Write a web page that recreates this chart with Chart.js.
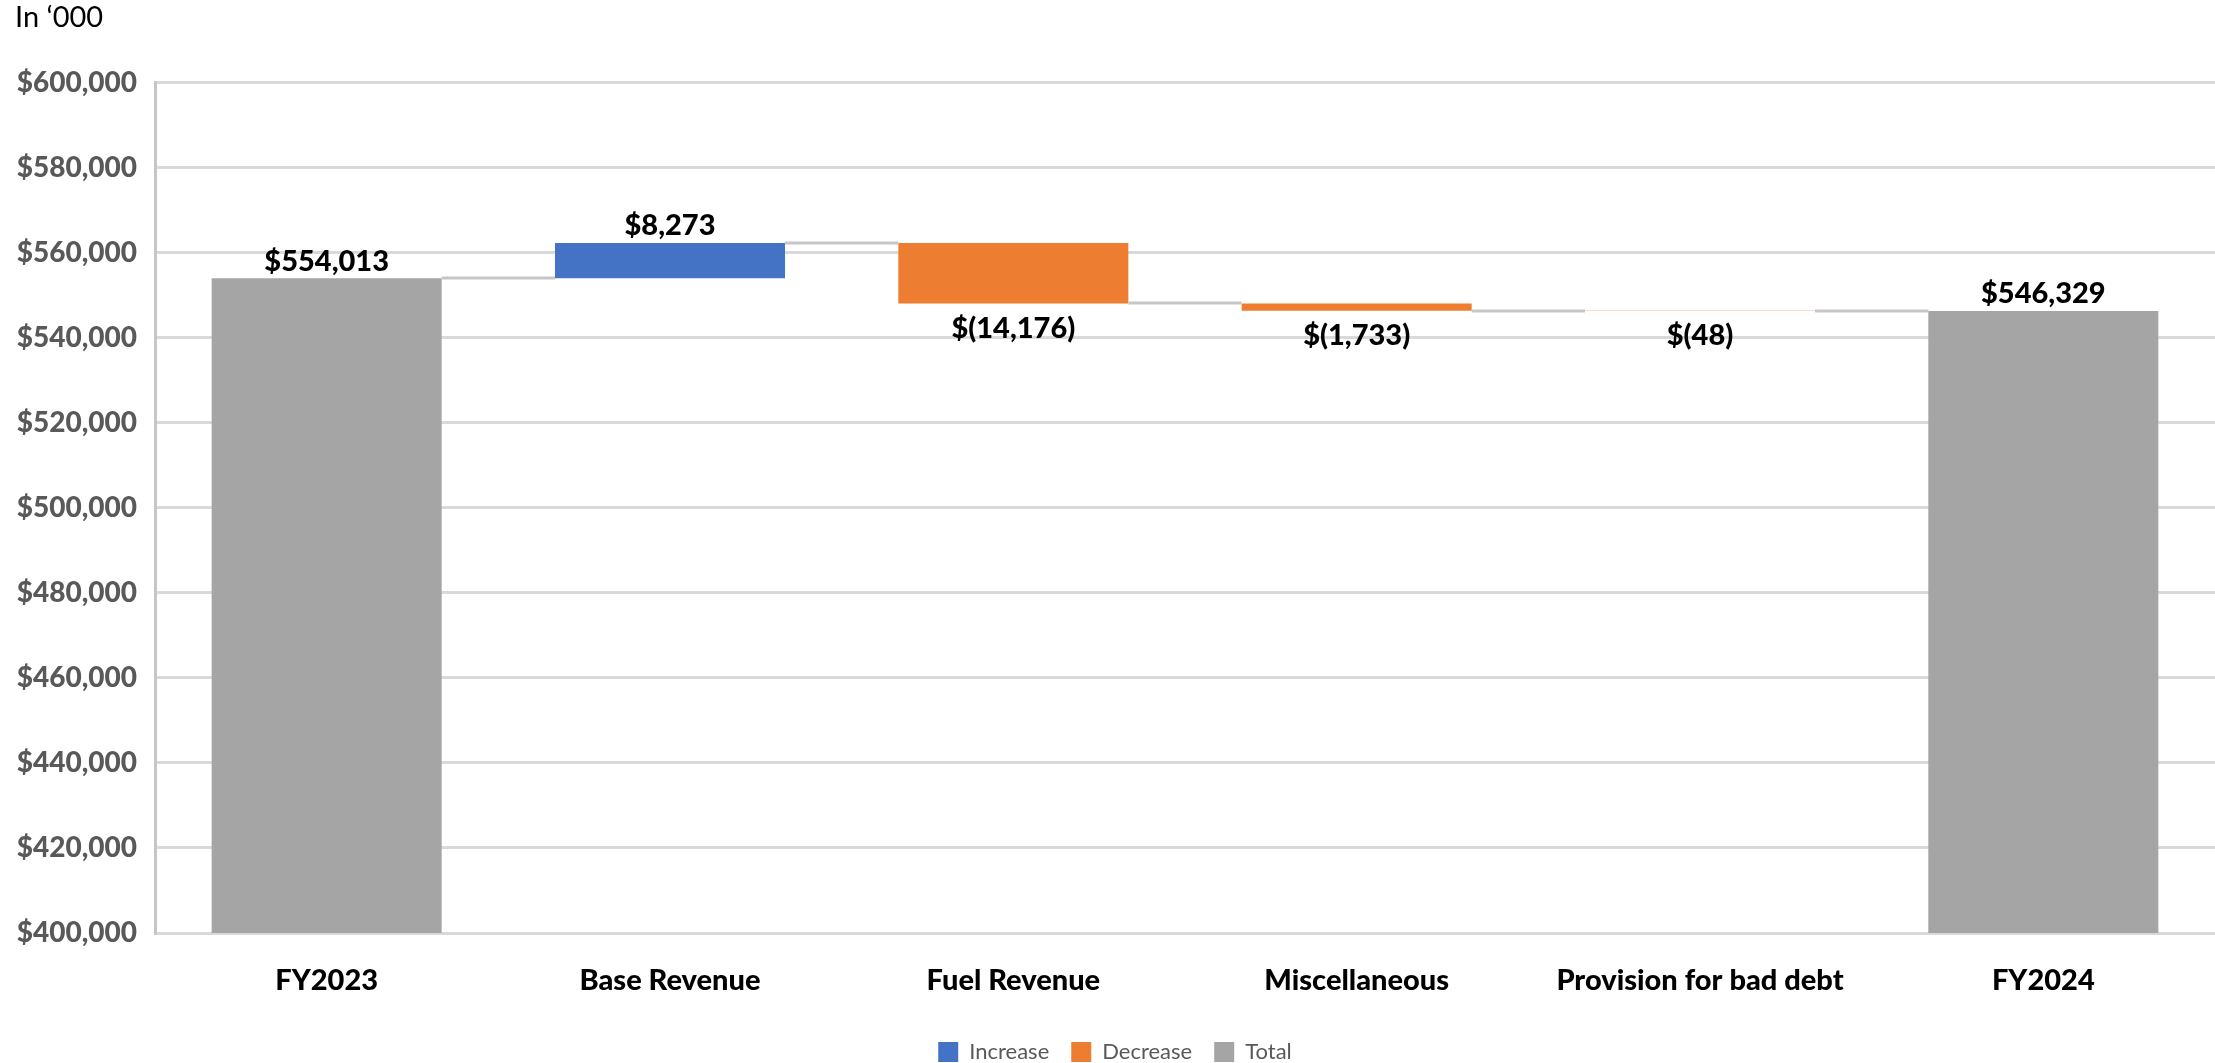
<!DOCTYPE html>
<html lang="en">
<head>
<meta charset="UTF-8">
<title>Revenue bridge FY2023 to FY2024</title>
<script src="https://cdn.jsdelivr.net/npm/chart.js"></script>
<style>
    html, body {
        margin: 0;
        padding: 0;
        background-color: #ffffff;
    }

    .chart-box {
        position: relative;
        width: 2215px;
        height: 1063px;
    }
</style>
</head>
<body>

<div class="chart-box">
    <canvas id="bridgeChart"></canvas>
</div>

<script>
// data (in '000)
const categories = ['FY2023', 'Base Revenue', 'Fuel Revenue', 'Miscellaneous', 'Provision for bad debt', 'FY2024'];
const amounts = [554013, 8273, -14176, -1733, -48, 546329];
const kinds = ['total', 'increase', 'decrease', 'decrease', 'decrease', 'total'];
const legendNames = ['Increase', 'Decrease', 'Total'];
const legendKinds = ['increase', 'decrease', 'total'];
const yMin = 400000;
const yMax = 600000;
const yStep = 20000;

const colors = { increase: '#4472C4', decrease: '#ED7D31', total: '#A5A5A5' };

// floating ranges for the waterfall
let running = 0;
const ranges = amounts.map((v, i) => {
    if (kinds[i] === 'total') {
        running = v;
        return [0, v];
    }
    const start = running;
    running += v;
    return [start, running];
});

function money(v) {
    const s = Math.abs(v).toLocaleString('en-US');
    return v < 0 ? '$(' + s + ')' : '$' + s;
}

function barFor(chart, i) {
    const ds = legendKinds.indexOf(kinds[i]);
    return chart.getDatasetMeta(ds).data[i];
}

const connectorPlugin = {
    id: 'connectors',
    afterDatasetsDraw(chart) {
        const ctx = chart.ctx;
        const y = chart.scales.y;
        ctx.save();
        ctx.strokeStyle = '#c6c6c6';
        ctx.lineWidth = 3;
        for (let i = 0; i < categories.length - 1; i++) {
            const a = barFor(chart, i);
            const b = barFor(chart, i + 1);
            const yy = Math.round(y.getPixelForValue(ranges[i][1]));
            ctx.beginPath();
            ctx.moveTo(a.x + a.width / 2, yy);
            ctx.lineTo(b.x - b.width / 2, yy);
            ctx.stroke();
        }
        ctx.restore();
    }
};

const labelPlugin = {
    id: 'barLabels',
    afterDatasetsDraw(chart) {
        const ctx = chart.ctx;
        const y = chart.scales.y;
        ctx.save();
        ctx.font = '900 29px Lato';
        ctx.fillStyle = '#000000';
        ctx.textAlign = 'center';
        ctx.textBaseline = 'middle';
        categories.forEach((c, i) => {
            const bar = barFor(chart, i);
            let ty;
            if (kinds[i] === 'decrease') {
                ty = y.getPixelForValue(Math.min(ranges[i][0], ranges[i][1])) + 25;
            } else {
                ty = y.getPixelForValue(Math.max(ranges[i][0], ranges[i][1])) - 17;
            }
            ctx.fillText(money(amounts[i]), bar.x, ty);
        });
        ctx.restore();
    }
};

const datasets = legendKinds.map((k, n) => ({
    label: legendNames[n],
    data: ranges.map((r, i) => kinds[i] === k ? r : null),
    backgroundColor: colors[k],
    borderWidth: 0,
    grouped: false,
    categoryPercentage: 1,
    barPercentage: 0.67
}));

new Chart(document.getElementById('bridgeChart'), {
    type: 'bar',
    data: { labels: categories, datasets: datasets },
    plugins: [connectorPlugin, labelPlugin],
    options: {
        responsive: true,
        maintainAspectRatio: false,
        animation: false,
        layout: { padding: { top: 0, left: 15, right: 0, bottom: -10 } },
        plugins: {
            title: {
                display: true,
                text: 'In \u2018000',
                align: 'start',
                color: '#000000',
                font: { family: 'Lato', size: 29, weight: 'normal' },
                padding: { top: 0, bottom: 48 }
            },
            legend: {
                position: 'bottom',
                labels: {
                    boxWidth: 20,
                    boxHeight: 20,
                    padding: 22,
                    color: '#595959',
                    font: { family: 'Lato', size: 22 }
                }
            },
            tooltip: { enabled: false }
        },
        scales: {
            x: {
                grid: { display: false },
                border: { display: false },
                ticks: {
                    color: '#000000',
                    padding: 22,
                    font: { family: 'Lato', size: 29, weight: '900' }
                },
                afterFit(scale) { scale.height = 86; }
            },
            y: {
                min: yMin,
                max: yMax,
                grid: { color: '#d9d9d9', lineWidth: 3, drawTicks: false },
                border: { color: '#c6c6c6', width: 3 },
                ticks: {
                    stepSize: yStep,
                    padding: 18,
                    color: '#595959',
                    font: { family: 'Lato', size: 28, weight: '900' },
                    callback: v => '$' + v.toLocaleString('en-US')
                },
                afterFit(scale) { scale.width = 140; }
            }
        }
    }
});
</script>
</body>
</html>
